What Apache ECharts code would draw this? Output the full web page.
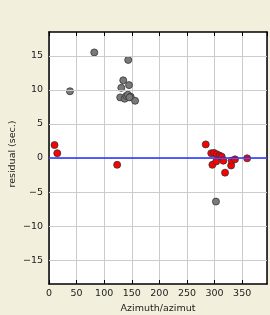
<!DOCTYPE html>
<html><head><meta charset="utf-8">
<script src="https://cdn.jsdelivr.net/npm/echarts@6/dist/echarts.min.js"></script>
<style>html,body{margin:0;padding:0;background:#f2efdc;}#c{width:270px;height:315px;}</style>
</head><body><div id="c"></div>
<script>
var grayPoints = [[38,9.8],[82,15.5],[143.5,14.4],[134.5,11.4],[131,10.3],[145,10.7],[129,8.9],[137,8.7],[140,9.1],[143,9.3],[148,9.0],[146,8.9],[156,8.4],[302.5,-6.4]];
var redPoints = [[10,1.9],[15,0.7],[123.5,-1.0],[284,2.0],[294,0.7],[299,0.75],[304,0.55],[309,0.35],[313,0.2],[296,-1.0],[303,-0.5],[316,-0.4],[319,-2.15],[330,-1.1],[331,-0.4],[337,-0.2],[359,-0.05]];
var yTicks = [-15,-10,-5,0,5,10,15];
var zeroLine = 0;
var xLabel = 'Azimuth/azimut';
var yLabel = 'residual (sec.)';

var font = 'DejaVu Sans';
function fmt(v){ return String(v).replace('-', '\u2212'); }
var chart = echarts.init(document.getElementById('c'), null, {renderer:'canvas'});
var xBase = {type:'value', min:0, max:395, interval:50};
var yBase = {type:'value', min:-18.5, max:18.5};
chart.setOption({
  backgroundColor:'#f2efdc',
  animation:false,
  grid:{left:49, right:3, top:32, bottom:31, show:true, backgroundColor:'#ffffff', borderWidth:0, containLabel:false, outerBoundsMode:'none'},
  xAxis:[
    Object.assign({}, xBase, {position:'bottom',
      name:xLabel, nameLocation:'middle', nameGap:19,
      nameTextStyle:{fontFamily:font, fontSize:9.5, color:'#222'},
      axisLine:{show:true, onZero:false, lineStyle:{color:'#000', width:1.5}},
      axisTick:{show:true, inside:true, length:4, lineStyle:{color:'#000'}},
      axisLabel:{fontFamily:font, fontSize:9.5, color:'#222', margin:5, showMaxLabel:false, formatter:fmt},
      splitLine:{show:true, lineStyle:{color:'#cccccc', width:1}}}),
    Object.assign({}, xBase, {position:'top',
      axisLine:{show:true, onZero:false, lineStyle:{color:'#000', width:1.5}},
      axisTick:{show:true, inside:true, length:4, lineStyle:{color:'#000'}},
      axisLabel:{show:false}, splitLine:{show:false}})
  ],
  yAxis:[
    Object.assign({}, yBase, {position:'left',
      name:yLabel, nameLocation:'middle', nameGap:31, nameRotate:90, nameMoveOverlap:false,
      nameTextStyle:{fontFamily:font, fontSize:9.5, color:'#222', padding:[0,0,0,8]},
      axisLine:{show:true, onZero:false, lineStyle:{color:'#000', width:1.5}},
      axisTick:{show:true, inside:true, length:4, lineStyle:{color:'#000'}, customValues:yTicks},
      axisLabel:{fontFamily:font, fontSize:9.5, color:'#222', margin:6, formatter:fmt, customValues:yTicks},
      splitLine:{show:false}}),
    Object.assign({}, yBase, {position:'right',
      axisLine:{show:true, onZero:false, lineStyle:{color:'#000', width:1.5}},
      axisTick:{show:true, inside:true, length:4, lineStyle:{color:'#000'}, customValues:yTicks},
      axisLabel:{show:false}, splitLine:{show:false}})
  ],
  series:[
    {type:'line', data:[], z:1, markLine:{silent:true, symbol:'none', label:{show:false},
      lineStyle:{color:'#cccccc', width:1, type:'solid'},
      data:yTicks.map(function(v){return {yAxis:v};})}},
    {type:'line', data:[], z:2, markLine:{silent:true, symbol:'none', label:{show:false},
      lineStyle:{color:'#2030ff', width:1.5, type:'solid'}, data:[{yAxis:zeroLine}]}},
    {type:'scatter', data:grayPoints, symbol:'circle', symbolSize:7, z:3,
      itemStyle:{color:'#7a7a7a', borderColor:'#333', borderWidth:0.8, opacity:1}},
    {type:'scatter', data:redPoints, symbol:'circle', symbolSize:7, z:4,
      itemStyle:{color:'#ff0000', borderColor:'#333', borderWidth:0.8, opacity:1}}
  ]
});
</script></body></html>
